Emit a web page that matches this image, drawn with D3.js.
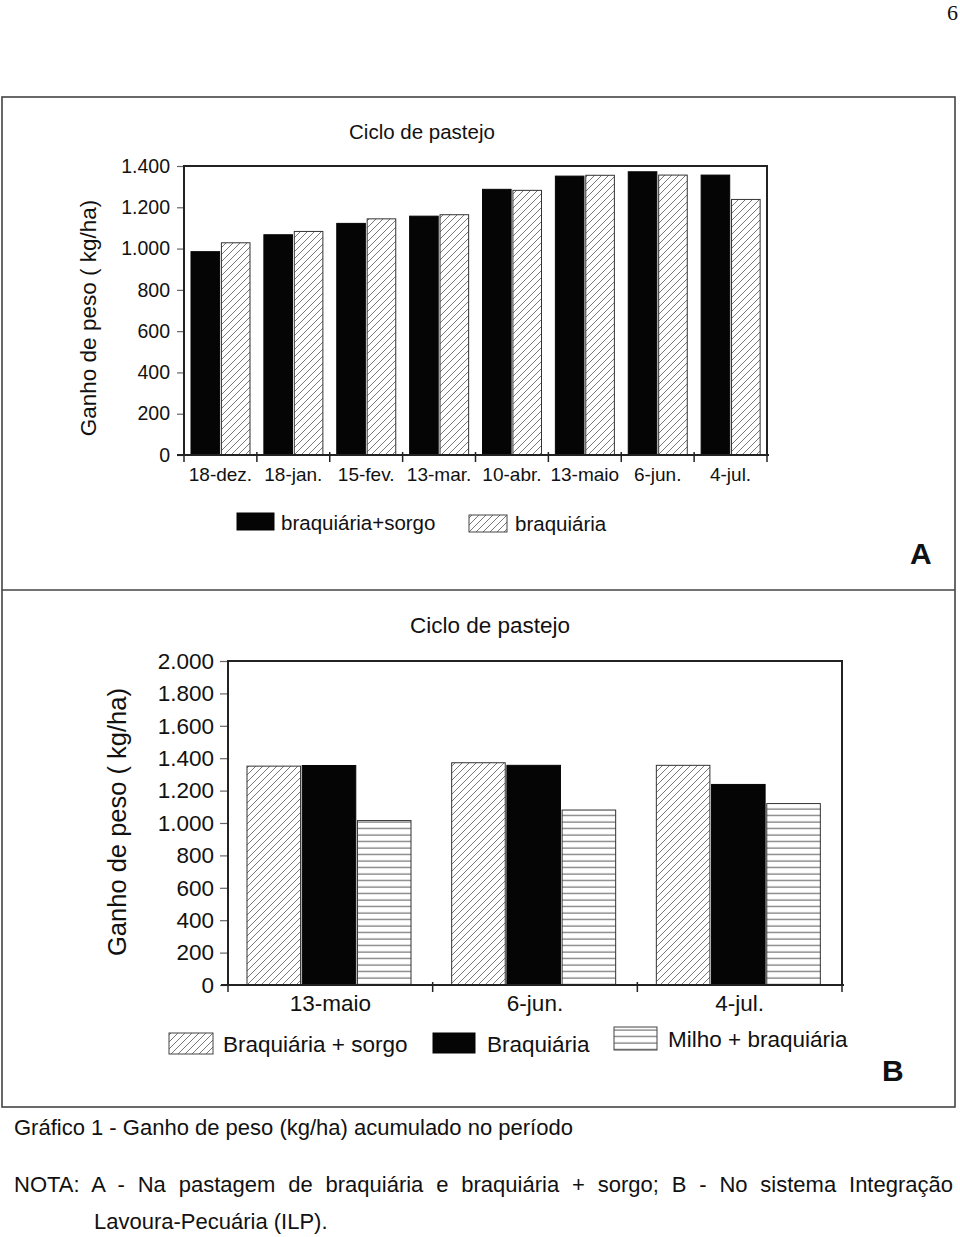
<!DOCTYPE html>
<html>
<head>
<meta charset="utf-8">
<script src="https://cdn.jsdelivr.net/npm/d3@7"></script>
<style>
  html, body { margin: 0; padding: 0; background: #fff; }
  svg { display: block; }
  text { font-family: "Liberation Sans", Arial, sans-serif; fill: #111; }
</style>
</head>
<body>
<svg id="chart" width="960" height="1237"></svg>
<script>
// ---------- DATA ----------
const catsA = ["18-dez.", "18-jan.", "15-fev.", "13-mar.", "10-abr.", "13-maio", "6-jun.", "4-jul."];
const seriesA = ["braquiária+sorgo", "braquiária"];
const braqSorgoA = [985, 1067, 1122, 1157, 1287, 1351, 1372, 1356];
const braqA = [1028, 1083, 1144, 1164, 1282, 1355, 1356, 1238];
const ticksA = [0, 200, 400, 600, 800, 1000, 1200, 1400];

const catsB = ["13-maio", "6-jun.", "4-jul."];
const seriesB = ["Braquiária + sorgo", "Braquiária", "Milho + braquiária"];
const braqSorgoB = [1351, 1372, 1356];
const braqB = [1355, 1356, 1238];
const milhoBraqB = [1015, 1080, 1120];
const ticksB = [0, 200, 400, 600, 800, 1000, 1200, 1400, 1600, 1800, 2000];

const captionTitle = "Gráfico 1 - Ganho de peso (kg/ha) acumulado no período";
const captionNote1 = "NOTA: A - Na pastagem de braquiária e braquiária + sorgo; B - No sistema Integração";
const captionNote2 = "Lavoura-Pecuária (ILP).";

// ---------- SETUP ----------
const svg = d3.select("#chart");
const fmt = d3.formatLocale({decimal: ",", thousands: ".", grouping: [3], currency: ["", ""]}).format(",");

const defs = svg.append("defs");
const diag = defs.append("pattern").attr("id", "diag").attr("patternUnits", "userSpaceOnUse")
  .attr("width", 7).attr("height", 7);
diag.append("rect").attr("width", 7).attr("height", 7).attr("fill", "#fff");
diag.append("path").attr("d", "M-1,8 L8,-1 M-1,1 L1,-1 M6,8 L8,6")
  .attr("stroke", "#555").attr("stroke-width", 0.8);
const horiz = defs.append("pattern").attr("id", "horiz").attr("patternUnits", "userSpaceOnUse")
  .attr("width", 8).attr("height", 6.5);
horiz.append("rect").attr("width", 8).attr("height", 6.5).attr("fill", "#fff");
horiz.append("line").attr("x1", 0).attr("x2", 8).attr("y1", 3).attr("y2", 3)
  .attr("stroke", "#555").attr("stroke-width", 1);

const fills = {black: "#050505", diag: "url(#diag)", horiz: "url(#horiz)"};

// page number
svg.append("text").attr("x", 958).attr("y", 20).attr("text-anchor", "end")
  .style("font-family", "'Liberation Serif', serif").style("font-size", "22px").text("6");

// outer frame
svg.append("rect").attr("x", 2).attr("y", 97).attr("width", 953).attr("height", 1010)
  .attr("fill", "none").attr("stroke", "#444").attr("stroke-width", 1.6);
svg.append("line").attr("x1", 2).attr("x2", 955).attr("y1", 590).attr("y2", 590)
  .attr("stroke", "#444").attr("stroke-width", 1.6);

function drawChart(cfg) {
  const g = svg.append("g");
  const x = d3.scaleBand().domain(cfg.cats).range([cfg.left, cfg.right]).padding(0);
  const y = d3.scaleLinear().domain([0, cfg.max]).range([cfg.bottom, cfg.top]);
  const inner = d3.scaleBand().domain(cfg.series).range(cfg.innerRange).paddingInner(cfg.innerPad);

  // y axis
  const ya = g.append("g").attr("transform", `translate(${cfg.left},0)`)
    .call(d3.axisLeft(y).tickValues(cfg.ticks).tickFormat(fmt).tickSize(cfg.tickLen).tickPadding(cfg.tickPad));
  ya.select(".domain").remove();
  ya.selectAll(".tick line").attr("stroke", "#666").attr("stroke-width", 1.2);
  ya.selectAll(".tick text").style("font-family", "'Liberation Sans', Arial, sans-serif")
    .style("font-size", cfg.tickFont + "px").attr("fill", "#111");

  // bars
  cfg.series.forEach((s, si) => {
    g.append("g").selectAll("rect").data(cfg.values[si]).join("rect")
      .attr("x", (d, i) => x(cfg.cats[i]) + inner(s))
      .attr("width", inner.bandwidth())
      .attr("y", d => y(d))
      .attr("height", d => y(0) - y(d))
      .attr("fill", fills[cfg.styles[si]])
      .attr("stroke", cfg.styles[si] === "black" ? "#050505" : "#333")
      .attr("stroke-width", 1);
  });

  // plot frame (left, top, right)
  g.append("path")
    .attr("d", `M${cfg.left},${cfg.bottom} L${cfg.left},${cfg.top} L${cfg.right},${cfg.top} L${cfg.right},${cfg.bottom}`)
    .attr("fill", "none").attr("stroke", "#222").attr("stroke-width", 2);

  // x axis
  const xa = g.append("g").attr("transform", `translate(0,${cfg.bottom})`)
    .call(d3.axisBottom(x).tickSize(0).tickPadding(cfg.xPad));
  xa.select(".domain").remove();
  xa.selectAll(".tick text").style("font-family", "'Liberation Sans', Arial, sans-serif")
    .style("font-size", cfg.xFont + "px").attr("fill", "#111");
  g.append("line").attr("x1", cfg.left - 7).attr("x2", cfg.right + 2)
    .attr("y1", cfg.bottom).attr("y2", cfg.bottom).attr("stroke", "#222").attr("stroke-width", 2);
  const bounds = cfg.cats.map(c => x(c)).concat([cfg.right]);
  g.append("g").selectAll("line").data(bounds).join("line")
    .attr("x1", d => d).attr("x2", d => d)
    .attr("y1", cfg.bottom - 3).attr("y2", cfg.bottom + 7)
    .attr("stroke", "#222").attr("stroke-width", 1.5);

  // titles
  g.append("text").attr("x", cfg.titleX).attr("y", cfg.titleY).attr("text-anchor", "middle")
    .style("font-size", cfg.titleFont + "px").text("Ciclo de pastejo");
  g.append("text").attr("transform", `translate(${cfg.ylabX},${cfg.ylabY}) rotate(-90)`)
    .attr("text-anchor", "middle").style("font-size", cfg.ylabFont + "px").text("Ganho de peso ( kg/ha)");

  // legend
  cfg.legend.forEach((l, i) => {
    g.append("rect").attr("x", l.x).attr("y", l.y).attr("width", l.w).attr("height", l.h)
      .attr("fill", fills[cfg.styles[i]]).attr("stroke", cfg.styles[i] === "black" ? "#050505" : "#444").attr("stroke-width", 1);
    g.append("text").attr("x", l.tx).attr("y", l.ty).style("font-size", cfg.legFont + "px").text(cfg.series[i]);
  });

  // panel letter
  g.append("text").attr("x", cfg.letterX).attr("y", cfg.letterY).style("font-size", "30px")
    .style("font-weight", "bold").attr("fill", "#333").text(cfg.letter);
}

drawChart({
  cats: catsA, series: seriesA, values: [braqSorgoA, braqA], styles: ["black", "diag"],
  left: 184, right: 767, top: 166, bottom: 455, max: 1400, ticks: ticksA,
  innerRange: [7, 66], innerPad: 0.06,
  tickLen: 7, tickPad: 7, tickFont: 19.5, xFont: 19, xPad: 13,
  titleX: 422, titleY: 139, titleFont: 20.5,
  ylabX: 96, ylabY: 318, ylabFont: 22.5,
  legend: [
    {x: 237, y: 513, w: 37, h: 17, tx: 281, ty: 530},
    {x: 469, y: 515, w: 38, h: 17, tx: 515, ty: 531}
  ],
  legFont: 20.5,
  letter: "A", letterX: 910, letterY: 564
});

drawChart({
  cats: catsB, series: seriesB, values: [braqSorgoB, braqB, milhoBraqB], styles: ["diag", "black", "horiz"],
  left: 228, right: 842, top: 661, bottom: 985, max: 2000, ticks: ticksB,
  innerRange: [19, 183], innerPad: 0.03,
  tickLen: 8, tickPad: 6, tickFont: 22.5, xFont: 22.5, xPad: 10,
  titleX: 490, titleY: 633, titleFont: 22.5,
  ylabX: 126, ylabY: 822, ylabFont: 25.5,
  legend: [
    {x: 169, y: 1033, w: 44, h: 21, tx: 223, ty: 1052},
    {x: 433, y: 1033, w: 42, h: 20, tx: 487, ty: 1052},
    {x: 614, y: 1027, w: 43, h: 23, tx: 668, ty: 1047}
  ],
  legFont: 22.5,
  letter: "B", letterX: 882, letterY: 1081
});

// caption
svg.append("text").attr("x", 14).attr("y", 1135).style("font-size", "22px").text(captionTitle);
const note = svg.append("text").attr("x", 14).attr("y", 1192).style("font-size", "22px").text(captionNote1);
const natural = note.node().getComputedTextLength();
const nSpaces = (captionNote1.match(/ /g) || []).length;
note.style("word-spacing", ((953 - 14 - natural) / nSpaces) + "px");
svg.append("text").attr("x", 94).attr("y", 1229).style("font-size", "22px").text(captionNote2);
</script>
</body>
</html>
